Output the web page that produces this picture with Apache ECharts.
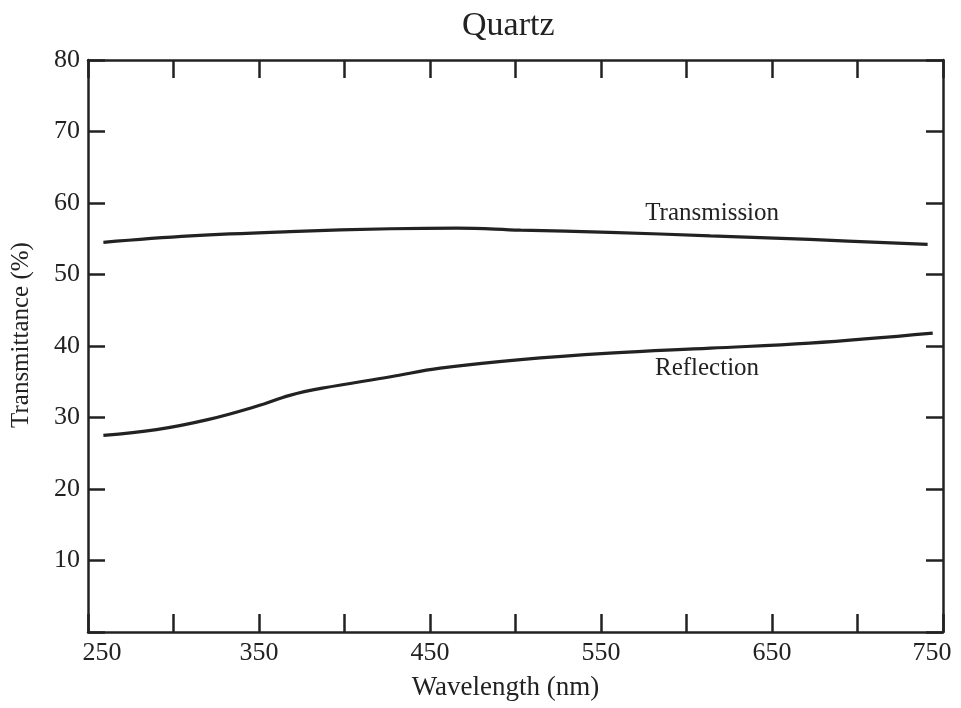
<!DOCTYPE html>
<html>
<head>
<meta charset="utf-8">
<script src="https://cdn.jsdelivr.net/npm/echarts@6/dist/echarts.min.js"></script>
<style>
html,body{margin:0;padding:0;background:#fff;}
#chart{width:961px;height:708px;}
</style>
</head>
<body>
<div id="chart"></div>
<script>
// Data
var transWavelength = [259, 310, 368, 427, 466, 503, 555, 614, 672, 741];
var transValues     = [54.5, 55.4, 56.0, 56.4, 56.5, 56.2, 55.9, 55.4, 54.9, 54.2];
var reflWavelength  = [259, 290, 320, 349, 368, 387, 427, 456, 503, 555, 614, 672, 744];
var reflValues      = [27.5, 28.3, 29.7, 31.6, 33.1, 34.1, 35.7, 36.9, 38.1, 39.0, 39.7, 40.4, 41.8];
var xTickLabels = [250, 350, 450, 550, 650, 750];
var yTickLabels = [10, 20, 30, 40, 50, 60, 70, 80];
var seriesNames = ['Transmission', 'Reflection'];
var labelCoords = [[615, 58.6], [612, 36.9]];

function pairs(xs, ys) { return xs.map(function (x, i) { return [x, ys[i]]; }); }

var FONT = 'Liberation Serif';
var INK = '#222';

var chart = echarts.init(document.getElementById('chart'), null, {renderer: 'canvas'});

function xAxisBase(pos, showLabels) {
  return {
    type: 'value', position: pos, min: 250, max: 750, interval: 50,
    axisLine: {show: true, onZero: false, lineStyle: {color: INK, width: 2.5}},
    axisTick: {show: true, inside: true, length: 18, lineStyle: {color: INK, width: 2.5}},
    splitLine: {show: false},
    axisLabel: showLabels ? {
      show: true, margin: 8, color: INK, fontFamily: FONT, fontSize: 26,
      formatter: function (v) {
        if (xTickLabels.indexOf(v) < 0) return '';
        if (v === 250) return '{l|' + v + '}';
        if (v === 750) return '{r|' + v + '}';
        return '{c|' + v + '}';
      },
      rich: {
        l: {fontFamily: FONT, fontSize: 26, color: INK, padding: [0, 0, 0, 28]},
        r: {fontFamily: FONT, fontSize: 26, color: INK, padding: [0, 22, 0, 0]},
        c: {fontFamily: FONT, fontSize: 26, color: INK}
      }
    } : {show: false}
  };
}
function yAxisBase(pos, showLabels) {
  return {
    type: 'value', position: pos, min: 0, max: 80, interval: 10,
    axisLine: {show: true, onZero: false, lineStyle: {color: INK, width: 2.5}},
    axisTick: {show: true, inside: true, length: 17, lineStyle: {color: INK, width: 2.5}},
    splitLine: {show: false},
    axisLabel: showLabels ? {
      show: true, margin: 8, color: INK, fontFamily: FONT, fontSize: 26,
      formatter: function (v) { return yTickLabels.indexOf(v) >= 0 ? String(v) : ''; }
    } : {show: false}
  };
}

var xBottom = xAxisBase('bottom', true);
xBottom.name = 'Wavelength (nm)';
xBottom.nameLocation = 'middle';
xBottom.nameGap = 42;
xBottom.nameTextStyle = {fontFamily: FONT, fontSize: 27, color: INK, padding: [0, 20, 0, 0]};
var xTop = xAxisBase('top', false);

var yLeft = yAxisBase('left', true);
yLeft.name = 'Transmittance (%)';
yLeft.nameLocation = 'middle';
yLeft.nameGap = 54;
yLeft.nameTextStyle = {fontFamily: FONT, fontSize: 25, color: INK, padding: [0, 0, 0, 22]};
var yRight = yAxisBase('right', false);

function lineSeries(name, data, labelCoord) {
  return {
    type: 'line', name: name, data: data, smooth: 0.4, symbol: 'none',
    xAxisIndex: 0, yAxisIndex: 0,
    lineStyle: {color: INK, width: 3.2},
    silent: true,
    markPoint: {
      symbol: 'circle', symbolSize: 0, silent: true,
      label: {show: true, position: 'inside', formatter: '{b}', color: INK, fontFamily: FONT, fontSize: 25},
      data: [{name: name, coord: labelCoord}]
    }
  };
}

chart.setOption({
  animation: false,
  backgroundColor: '#fff',
  title: {
    text: 'Quartz', left: 457, top: 4,
    textStyle: {fontFamily: FONT, fontSize: 34, fontWeight: 'normal', color: INK}
  },
  grid: {left: 88, right: 18, top: 60, bottom: 76, containLabel: false},
  xAxis: [xBottom, xTop],
  yAxis: [yLeft, yRight],
  series: [
    lineSeries(seriesNames[0], pairs(transWavelength, transValues), labelCoords[0]),
    lineSeries(seriesNames[1], pairs(reflWavelength, reflValues), labelCoords[1])
  ]
});
</script>
</body>
</html>
